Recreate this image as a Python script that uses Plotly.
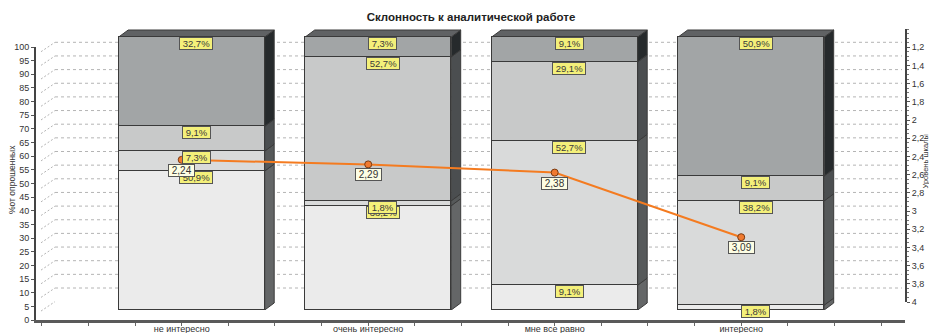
import plotly.graph_objects as go

# ---- data -------------------------------------------------------------
categories = ["не интересно", "очень интересно", "мне все равно", "интересно"]

# stacked shares (%), bottom segment first
share_1 = [50.9, 38.2, 9.1, 1.8]
share_2 = [7.3, 1.8, 52.7, 38.2]
share_3 = [9.1, 52.7, 29.1, 9.1]
share_4 = [32.7, 7.3, 9.1, 50.9]

# mean scale score per group (right axis, reversed 1..4)
mean_score = [2.24, 2.29, 2.38, 3.09]

pct_ticks = list(range(0, 101, 5))
score_ticks = [1.2, 1.4, 1.6, 1.8, 2, 2.2, 2.4, 2.6, 2.8, 3, 3.2, 3.4, 3.6, 3.8, 4]
score_labels = ["1,2", "1,4", "1,6", "1,8", "2", "2,2", "2,4", "2,6", "2,8",
                "3", "3,2", "3,4", "3,6", "3,8", "4"]

# ---- styling / geometry -----------------------------------------------
segments = [share_1, share_2, share_3, share_4]
front_colors = ["#ebebeb", "#d9dada", "#c8c9c9", "#a2a5a6"]
side_colors = ["#646667", "#56595a", "#4b4e50", "#262a2c"]
top_color = "#606264"
edge_color = "#3a3a3a"
label_bg = "#f4f07a"
value_bg = "#fdfde3"
orange = "#f47b20"
FONT = "Liberation Sans, Arial, sans-serif"
NB = "\u00a0"

W, H = 929, 333
L, R, T, B = 36, 905, 29, 320           # plot area in px
PW, PH = R - L, B - T
STEP = 186.5                            # px per category
FRONT_C0 = 181.7                        # px of first category on the front plane
SHIFT = 10                              # bars sit 10px right / 10px up of front plane
PX_PCT = 2.73                           # px per percent
BAR_W = 146 / STEP
DX, DY = 9.5 / STEP, 7 / PX_PCT         # bar depth in data units
GRID_BOTTOM = 315.3                     # px of 0 % on the grid plane

front_r0 = -(FRONT_C0 - L) / STEP
bar_r0 = -(FRONT_C0 + SHIFT - (L + SHIFT)) / STEP

fig = go.Figure()

# stacked bars
for seg, col in zip(segments, front_colors):
    fig.add_trace(go.Bar(
        x=list(range(len(categories))), y=seg, xaxis="x", yaxis="y",
        width=BAR_W, marker=dict(color=col, line=dict(color=edge_color, width=1)),
        hoverinfo="skip", showlegend=False))

# empty traces keep the percent and score axis subplots alive
fig.add_trace(go.Scatter(x=[], y=[], xaxis="x2", yaxis="y2", showlegend=False))
fig.add_trace(go.Scatter(x=[], y=[], xaxis="x2", yaxis="y4", showlegend=False))

# mean score line on the front plane (reversed score axis)
fig.add_trace(go.Scatter(
    x=list(range(len(categories))), y=mean_score, xaxis="x2", yaxis="y3",
    mode="lines+markers", line=dict(color=orange, width=2),
    marker=dict(size=7, color="#f07a30", line=dict(color="#7a3a10", width=1)),
    hoverinfo="skip", showlegend=False))

shapes = []
annotations = []

# dashed grid on the back plane with the diagonal joins to the front axis
gx0, gx1 = (55 - L) / PW, (902 - L) / PW
dx0 = (41 - L) / PW
for v in pct_ticks[1:]:
    shapes.append(dict(type="line", xref="paper", yref="y5", x0=dx0, x1=gx0,
                       y0=v - 9.4 / PX_PCT, y1=v, layer="below",
                       line=dict(color="#b4b4b4", width=1, dash="2px,2px")))
    if v >= 10:
        shapes.append(dict(type="line", xref="paper", yref="y5", x0=gx0, x1=gx1,
                           y0=v, y1=v, layer="below",
                           line=dict(color="#b4b4b4", width=1, dash="3px,3px")))

# 3D side and top faces of each bar, plus the segment labels
for i in range(len(categories)):
    x1 = i + BAR_W / 2
    x0 = i - BAR_W / 2
    bottom = 0.0
    for seg, side in zip(segments, side_colors):
        top = bottom + seg[i]
        shapes.append(dict(
            type="path", xref="x", yref="y", layer="below",
            path=f"M {x1},{bottom} L {x1},{top} L {x1 + DX},{top + DY} "
                 f"L {x1 + DX},{bottom + DY} Z",
            fillcolor=side, line=dict(color=edge_color, width=1)))
        annotations.append(dict(
            xref="x", yref="y", x=i + 0.025, y=top, xanchor="center", yanchor="top",
            text=NB + f"{seg[i]:.1f}%".replace(".", ",") + NB, showarrow=False,
            bgcolor=label_bg, bordercolor="#555", borderwidth=1, borderpad=0,
            font=dict(family=FONT, size=9.5, color="#3a3a3a")))
        bottom = top
    shapes.append(dict(
        type="path", xref="x", yref="y", layer="below",
        path=f"M {x0},{bottom} L {x1},{bottom} L {x1 + DX},{bottom + DY} "
             f"L {x0 + DX},{bottom + DY} Z",
        fillcolor=top_color, line=dict(color=edge_color, width=1)))

# value boxes under the line markers
for i, v in enumerate(mean_score):
    annotations.append(dict(
        xref="x2", yref="y3", x=i, y=v, xanchor="center", yanchor="top", yshift=-4,
        text=NB + f"{v:.2f}".replace(".", ",") + NB, showarrow=False,
        bgcolor=value_bg, bordercolor="#555", borderwidth=1, borderpad=0,
        font=dict(family=FONT, size=10, color="#333")))

# axis titles
annotations.append(dict(
    xref="paper", yref="paper", x=(12 - L) / PW, y=(B - 180) / PH,
    xanchor="center", yanchor="middle",
    text="%от опрошенных", textangle=-90, showarrow=False,
    font=dict(family=FONT, size=8.5, color="#333")))
annotations.append(dict(
    xref="paper", yref="paper", x=(924.5 - L) / PW, y=(B - 162) / PH,
    xanchor="center", yanchor="middle",
    text="Уровень шкалы", textangle=-90, showarrow=False,
    font=dict(family=FONT, size=7.5, color="#333")))

tick_font = dict(family=FONT, size=9, color="#333")

fig.update_layout(
    width=W, height=H,
    margin=dict(l=L, r=W - R, t=T, b=H - B, autoexpand=False),
    paper_bgcolor="white", plot_bgcolor="rgba(0,0,0,0)",
    barmode="stack", bargap=0,
    title=dict(text="<b>Склонность к аналитической работе</b>",
               x=471 / W, y=1 - 17 / H, xref="container", yref="container",
               xanchor="center", yanchor="middle",
               font=dict(family=FONT, size=11.5, color="#222")),
    # bars (set back from the front plane)
    xaxis=dict(domain=[SHIFT / PW, 1], range=[bar_r0, bar_r0 + (PW - SHIFT) / STEP],
               visible=False, anchor="y"),
    yaxis=dict(domain=[SHIFT / PH, 1], range=[0, (B - SHIFT - T) / PX_PCT],
               visible=False, anchor="x"),
    # front plane: category axis and percent axis
    xaxis2=dict(domain=[0, 1], range=[front_r0, front_r0 + PW / STEP], anchor="y2",
                tickvals=list(range(len(categories))), ticktext=categories,
                ticks="outside", ticklen=3, tickcolor="#666", ticklabelstandoff=-5,
                minor=dict(dtick=0.25, tick0=0, ticks="outside", ticklen=3, tickcolor="#666"),
                showline=True, linecolor="#5a5a5a", linewidth=3,
                showgrid=False, zeroline=False, tickfont=tick_font),
    yaxis2=dict(domain=[0, (B - 47) / PH], range=[0, 100], anchor="x2", type="linear",
                tickvals=pct_ticks, ticktext=[str(v) for v in pct_ticks],
                ticks="outside", ticklen=3, tickcolor="#555",
                showline=True, linecolor="#444", linewidth=2, showticklabels=True,
                showgrid=False, zeroline=False, tickfont=tick_font),
    # score scale used by the line (front plane)
    yaxis3=dict(domain=[0, (B - 47) / PH], range=[4, 1], anchor="x2",
                visible=False),
    # score axis drawn on the right (back plane)
    yaxis4=dict(domain=[(B - 302) / PH, 1], range=[4, 1], anchor="x2", side="right",
                tickvals=score_ticks, ticktext=score_labels,
                ticks="outside", ticklen=3, tickcolor="#555",
                minor=dict(dtick=0.05, tick0=1, ticks="outside", ticklen=2, tickcolor="#777"),
                showline=True, linecolor="#444", linewidth=2,
                showgrid=False, zeroline=False, tickfont=tick_font),
    # back-plane percent scale for the dashed grid
    yaxis5=dict(domain=[(B - GRID_BOTTOM) / PH, 1],
                range=[0, (GRID_BOTTOM - T) / PX_PCT], anchor="x2", visible=False),
    shapes=shapes,
    annotations=annotations,
)

fig.write_html("out.html")
